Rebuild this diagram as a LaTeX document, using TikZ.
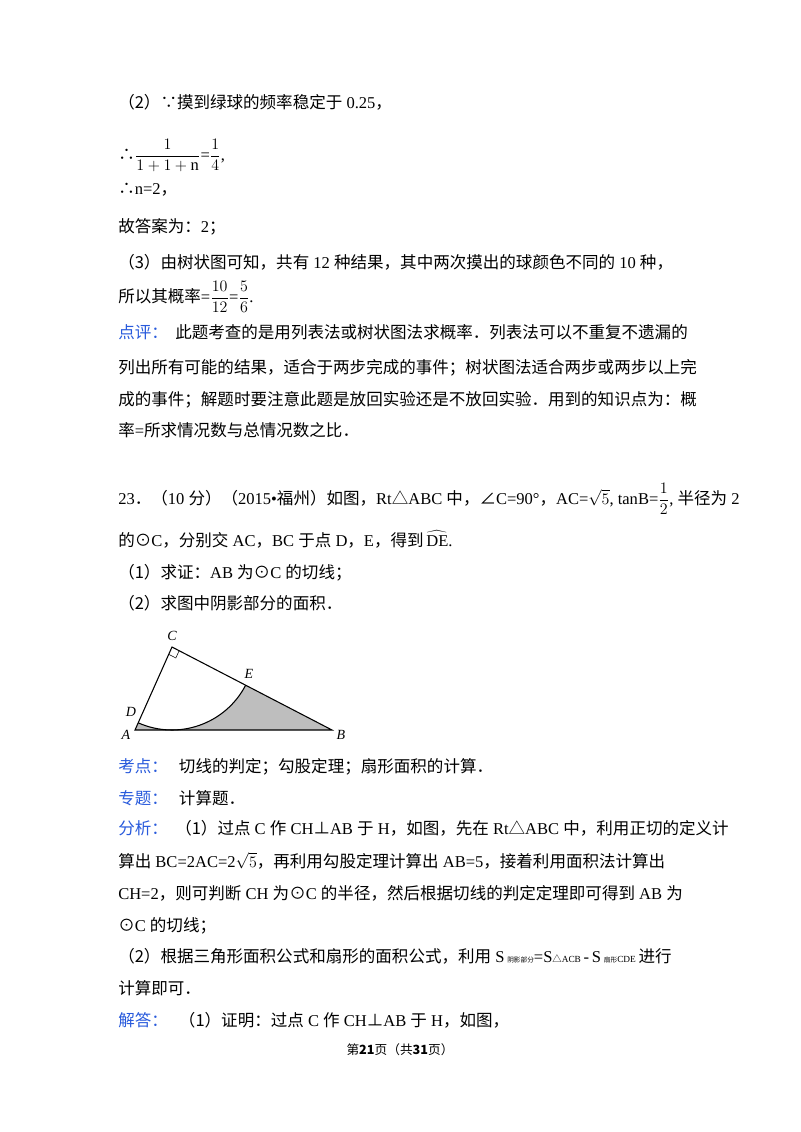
\documentclass[tikz,border=0pt]{standalone}
\usepackage{fontspec}
\usetikzlibrary{calc}
\setmainfont{Liberation Serif}
\newfontfamily\cjk{Noto Sans CJK SC}
\newcommand\h[1]{{\cjk #1}}
\definecolor{lbl}{RGB}{40,90,220}
\definecolor{shadegray}{RGB}{190,190,190}
\tikzset{ln/.style={anchor=base west,inner sep=0pt,font=\fontsize{12.4}{15}\selectfont},
  ptlabel/.style={font=\itshape\fontsize{10.5}{12}\selectfont,inner sep=1pt}}
\begin{document}
\begin{tikzpicture}[x=0.75pt,y=-0.75pt]
\useasboundingbox[fill=white] (0,0) rectangle (800,1132);
\node[ln] (l1) at (118,108) {\h{（2）∵摸到绿球的频率稳定于} 0.25\h{，}};
\node[ln] (l2) at (118,160) {\h{∴}$\displaystyle\frac{1}{1+1+\mathrm{n}}$=$\displaystyle\frac{1}{4}$,};
\node[ln] (l3) at (118,194) {\h{∴}n=2\h{，}};
\node[ln] (l4) at (118,232) {\h{故答案为：}2\h{；}};
\node[ln] (l5) at (118,268) {\h{（3）由树状图可知，共有} 12 \h{种结果，其中两次摸出的球颜色不同的} 10 \h{种，}};
\node[ln] (l6) at (118,302) {\h{所以其概率}=$\displaystyle\frac{10}{12}$=$\displaystyle\frac{5}{6}$.};
\node[ln] (l7) at (118,338) {\h{\textcolor{lbl}{点评：}\ \ 此题考查的是用列表法或树状图法求概率．列表法可以不重复不遗漏的}};
\node[ln] (l8) at (118,373) {\h{列出所有可能的结果，适合于两步完成的事件；树状图法适合两步或两步以上完}};
\node[ln] (l9) at (118,405) {\h{成的事件；解题时要注意此题是放回实验还是不放回实验．用到的知识点为：概}};
\node[ln] (l10) at (118,436) {\h{率}=\h{所求情况数与总情况数之比．}};
\node[ln] (l11) at (118,504) {23\h{．（}10 \h{分）（}2015•\h{福州）如图，}Rt\h{△}ABC \h{中，∠}C=90°\h{，}AC=$\sqrt{5}$, tanB=$\displaystyle\frac{1}{2}$, \h{半径为} 2};
\node[ln] (l12) at (118,546) {\h{的⊙}C\h{，分别交} AC\h{，}BC \h{于点} D\h{，}E\h{，得到}\,$\widehat{\mathrm{DE}}$.};
\node[ln] (l13) at (118,578) {\h{（1）求证：}AB \h{为⊙}C \h{的切线；}};
\node[ln] (l14) at (118,609) {\h{（2）求图中阴影部分的面积．}};
% figure
\coordinate (C) at (172,647);
\coordinate (A) at (135,730);
\coordinate (B) at (332,730);
\coordinate (D) at ($(C)+(-33.8,75.8)$);
\coordinate (E) at ($(C)!0.46!(B)$);
\coordinate (P1) at ($(C)!6pt!(A)$);
\coordinate (P2) at ($(C)!6pt!(B)$);
\fill[shadegray] (D) arc[start angle=-114,end angle=-27.4,radius=62.25pt] -- (B) -- (A) -- cycle;
\draw[thick] (D) arc[start angle=-114,end angle=-27.4,radius=62.25pt];
\draw[thick] (A) -- (C) -- (B) -- cycle;
\draw (P1) -- ($(P1)+(P2)-(C)$) -- (P2);
\node[ptlabel] (nC) at (172,636) {C};
\node[ptlabel] (nE) at (249,674) {E};
\node[ptlabel] (nD) at (131,712) {D};
\node[ptlabel] (nA) at (126,735) {A};
\node[ptlabel] (nB) at (341,735) {B};
% analysis
\node[ln] (l15) at (118,772) {\h{\textcolor{lbl}{考点：}\ \ \ 切线的判定；勾股定理；扇形面积的计算．}};
\node[ln] (l16) at (118,804) {\h{\textcolor{lbl}{专题：}\ \ \ 计算题．}};
\node[ln] (l17) at (118,834) {\h{\textcolor{lbl}{分析：}\ \ （1）过点} C \h{作} CH\h{⊥}AB \h{于} H\h{，如图，先在} Rt\h{△}ABC \h{中，利用正切的定义计}};
\node[ln] (l18) at (118,867) {\h{算出} BC=2AC=2$\sqrt{5}$\h{，再利用勾股定理计算出} AB=5\h{，接着利用面积法计算出}};
\node[ln] (l19) at (118,899) {CH=2\h{，则可判断} CH \h{为⊙}C \h{的半径，然后根据切线的判定定理即可得到} AB \h{为}};
\node[ln] (l20) at (118,931) {\h{⊙}C \h{的切线；}};
\node[ln] (l21) at (118,962) {\h{（2）根据三角形面积公式和扇形的面积公式，利用} S\,{\tiny\h{阴影部分}}=S{\scriptsize\h{△}ACB}\,-\,S\,{\tiny\h{扇形}\scriptsize CDE}\,\h{进行}};
\node[ln] (l22) at (118,994) {\h{计算即可．}};
\node[ln] (l23) at (118,1026) {\h{\textcolor{lbl}{解答：}\ \ \ （1）证明：过点} C \h{作} CH\h{⊥}AB \h{于} H\h{，如图，}};
\node[anchor=base,inner sep=0pt,font=\fontsize{9.5}{11}\selectfont] (ft) at (400,1054) {\h{第\textbf{21}页（共\textbf{31}页）}};
\end{tikzpicture}
\end{document}
